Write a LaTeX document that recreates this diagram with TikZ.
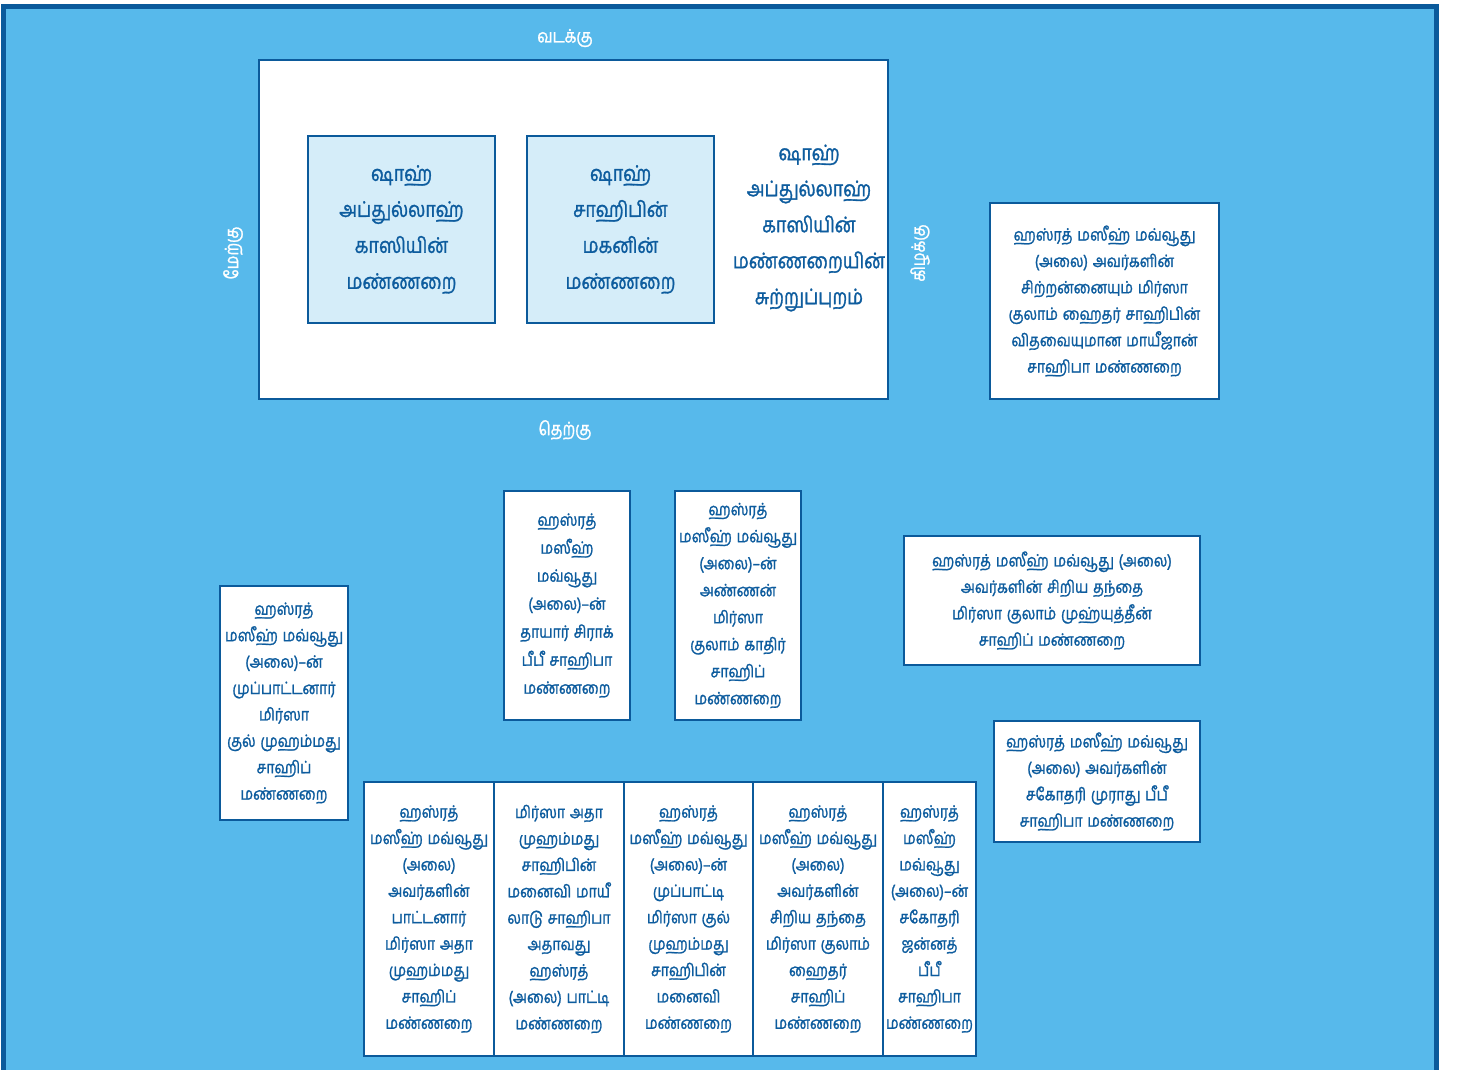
\documentclass[tikz,border=0pt]{standalone}
\usepackage{fontspec}
\newfontfamily\tam[Script=Tamil, FakeStretch=0.83, FakeBold=1.3, WordSpace=1.4]{Hind Madurai}
\definecolor{bgblue}{HTML}{57B9EB}
\definecolor{dkblue}{HTML}{0B5A9B}
\definecolor{txblue}{HTML}{0D5C9E}
\definecolor{paleblue}{HTML}{D5EDF9}
\tikzset{
  box/.style={draw=dkblue, line width=2.4pt, fill=white, text=txblue, align=center, inner sep=0pt},
  big/.style={font=\tam\fontsize{21.5}{36}\selectfont},
  small/.style={font=\tam\fontsize{17}{26.4}\selectfont},
  dir/.style={text=white, font=\tam\fontsize{18.5}{22}\selectfont},
}
\begin{document}
\begin{tikzpicture}[x=1pt,y=-1pt]
\useasboundingbox (0,0) rectangle (1459,1070);
\fill[white] (0,0) rectangle (1459,1070);
\begin{scope}
\clip (0,0) rectangle (1459,1070);
\draw[draw=dkblue, fill=bgblue, line width=5pt] (3.5,6.5) rectangle (1436.5,1090);
\end{scope}
% main enclosure
\node[box, minimum width=629, minimum height=339] (enc) at (573.5,229.5) {};
\node[box, fill=paleblue, big, minimum width=187, minimum height=187] (g1) at (401.5,229.5)
  {ஷாஹ்\\அப்துல்லாஹ்\\காஸியின்\\மண்ணறை};
\node[box, fill=paleblue, big, minimum width=187, minimum height=187] (g2) at (620.5,229.5)
  {ஷாஹ்\\சாஹிபின்\\மகனின்\\மண்ணறை};
\node[text=txblue, align=center, big, inner sep=0pt] (g3) at (809,228)
  {ஷாஹ்\\அப்துல்லாஹ்\\காஸியின்\\மண்ணறையின்\\சுற்றுப்புறம்};
% directions
\node[dir] (north) at (565,38) {வடக்கு};
\node[dir] (south) at (565,430) {தெற்கு};
\node[dir, rotate=90] (west) at (233,253) {மேற்கு};
\node[dir, rotate=90] (east) at (920,253) {கிழக்கு};
% right side
\node[box, small, minimum width=229, minimum height=196] (r1) at (1104.5,301)
  {ஹஸ்ரத் மஸீஹ் மவ்வூது\\(அலை) அவர்களின்\\சிற்றன்னையும் மிர்ஸா\\குலாம் ஹைதர் சாஹிபின்\\விதவையுமான மாயீஜான்\\சாஹிபா மண்ணறை};
\node[box, small, minimum width=296, minimum height=129] (r2) at (1052,600.5)
  {ஹஸ்ரத் மஸீஹ் மவ்வூது (அலை)\\அவர்களின் சிறிய தந்தை\\மிர்ஸா குலாம் முஹ்யுத்தீன்\\சாஹிப் மண்ணறை};
\node[box, small, minimum width=206, minimum height=121] (r3) at (1097,781.5)
  {ஹஸ்ரத் மஸீஹ் மவ்வூது\\(அலை) அவர்களின்\\சகோதரி முராது பீபீ\\சாஹிபா மண்ணறை};
% left and middle
\node[box, small, minimum width=128, minimum height=234] (l1) at (284,703)
  {ஹஸ்ரத்\\மஸீஹ் மவ்வூது\\(அலை)–ன்\\முப்பாட்டனார்\\மிர்ஸா\\குல் முஹம்மது\\சாஹிப்\\மண்ணறை};
\node[box, small, minimum width=126, minimum height=229, font=\tam\fontsize{17}{28}\selectfont] (m1) at (567,605.5)
  {ஹஸ்ரத்\\மஸீஹ்\\மவ்வூது\\(அலை)–ன்\\தாயார் சிராக்\\பீபீ சாஹிபா\\மண்ணறை};
\node[box, small, minimum width=126, minimum height=229, font=\tam\fontsize{17}{27}\selectfont] (m2) at (738,605.5)
  {ஹஸ்ரத்\\மஸீஹ் மவ்வூது\\(அலை)–ன்\\அண்ணன்\\மிர்ஸா\\குலாம் காதிர்\\சாஹிப்\\மண்ணறை};
% bottom row
\node[box, small, minimum width=130, minimum height=274] (b1) at (429,919)
  {ஹஸ்ரத்\\மஸீஹ் மவ்வூது\\(அலை)\\அவர்களின்\\பாட்டனார்\\மிர்ஸா அதா\\முஹம்மது\\சாஹிப்\\மண்ணறை};
\node[box, small, minimum width=130, minimum height=274] (b2) at (559,919)
  {மிர்ஸா அதா\\முஹம்மது\\சாஹிபின்\\மனைவி மாயீ\\லாடு சாஹிபா\\அதாவது\\ஹஸ்ரத்\\(அலை) பாட்டி\\மண்ணறை};
\node[box, small, minimum width=129, minimum height=274] (b3) at (688.5,919)
  {ஹஸ்ரத்\\மஸீஹ் மவ்வூது\\(அலை)–ன்\\முப்பாட்டி\\மிர்ஸா குல்\\முஹம்மது\\சாஹிபின்\\மனைவி\\மண்ணறை};
\node[box, small, minimum width=130, minimum height=274] (b4) at (818,919)
  {ஹஸ்ரத்\\மஸீஹ் மவ்வூது\\(அலை)\\அவர்களின்\\சிறிய தந்தை\\மிர்ஸா குலாம்\\ஹைதர்\\சாஹிப்\\மண்ணறை};
\node[box, small, minimum width=93, minimum height=274] (b5) at (929.5,919)
  {ஹஸ்ரத்\\மஸீஹ்\\மவ்வூது\\(அலை)–ன்\\சகோதரி\\ஜன்னத்\\பீபீ\\சாஹிபா\\மண்ணறை};
\end{tikzpicture}
\end{document}
